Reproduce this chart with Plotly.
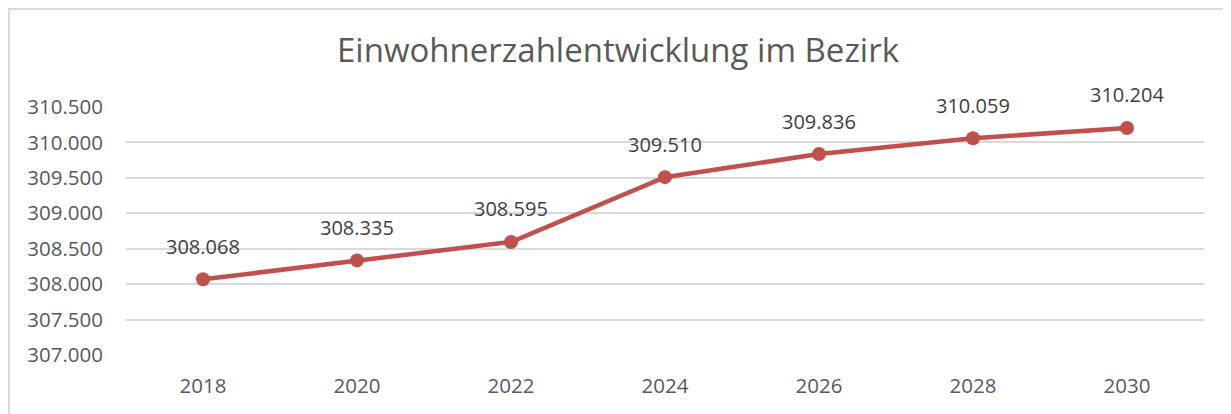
import plotly.graph_objects as go

years = ["2018", "2020", "2022", "2024", "2026", "2028", "2030"]
population = [308068, 308335, 308595, 309510, 309836, 310059, 310204]
y_ticks = [307000, 307500, 308000, 308500, 309000, 309500, 310000, 310500]
y_tick_labels = ["307.000", "307.500", "308.000", "308.500", "309.000", "309.500", "310.000", "310.500"]
title_text = "Einwohnerzahlentwicklung im Bezirk"

def fmt(v):
    return f"{v:,}".replace(",", ".")

FONT = "Open Sans"
TXT = "#595959"
RED = "#C0504D"
OFF = 8  # page body margin
L, R, T, B = 126 - OFF, 27 + OFF, 107 - OFF, 59 + OFF
PW, PH = 1231 - L - R, 414 - T - B

fig = go.Figure()
fig.add_trace(go.Scatter(
    x=list(range(len(years))), y=population, mode="lines+markers",
    line=dict(color=RED, width=4.5),
    marker=dict(color=RED, size=14),
    hoverinfo="skip", showlegend=False,
))

for i, y in enumerate(population):
    fig.add_annotation(x=i, y=y, xref="x", yref="y", text=fmt(y), showarrow=False,
                       yshift=33, font=dict(family=FONT, size=20, color="#404040"))

# chart-area border (left and top visible in the reference)
fig.add_shape(type="rect", xref="paper", yref="paper",
              x0=(1 - L) / PW, x1=(1231 + 20 - L) / PW,
              y0=-(B + 20) / PH, y1=1 + (T - 1) / PH,
              line=dict(color="#D9D9D9", width=2), layer="below")

fig.update_layout(
    width=1231, height=414,
    margin=dict(l=L, r=R, t=T, b=B),
    paper_bgcolor="white", plot_bgcolor="white",
    title=dict(text=title_text, x=(618 - OFF) / 1231, xref="container", xanchor="center",
               y=1 - (50 - OFF) / 414, yref="container", yanchor="middle",
               font=dict(family=FONT, size=33, color=TXT)),
    xaxis=dict(range=[-0.5, 6.5], tickvals=list(range(len(years))), ticktext=years,
               showgrid=False, zeroline=False,
               showline=False, ticks="", ticklabelstandoff=16,
               tickfont=dict(family=FONT, size=20.5, color=TXT)),
    yaxis=dict(range=[307000, 310500], tickvals=y_ticks, ticktext=y_tick_labels,
               showgrid=True, gridcolor="#D9D9D9", gridwidth=1.5, zeroline=False,
               showline=False, ticks="", ticklabelstandoff=22,
               tickfont=dict(family=FONT, size=20.5, color=TXT)),
)

fig.write_html("out.html")
